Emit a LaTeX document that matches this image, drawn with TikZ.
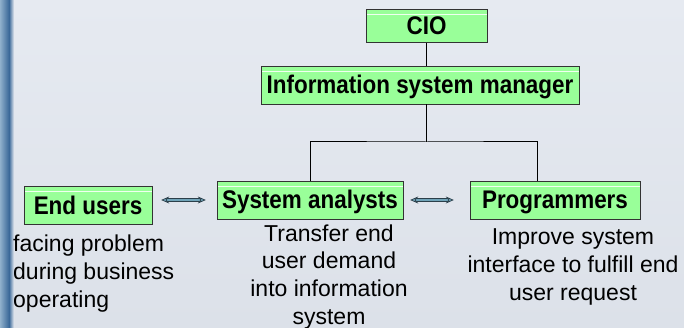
\documentclass[tikz,border=0pt]{standalone}
\usepackage{fontspec}
\setmainfont{Liberation Sans}
\newfontfamily\boxfont[FakeStretch=0.88]{Liberation Sans}
\usetikzlibrary{arrows.meta}

\definecolor{boxgreen}{HTML}{99FF99}
\definecolor{slidetop}{HTML}{E6EAF1}
\definecolor{slidebot}{HTML}{DCE1E9}
\definecolor{stripdark}{HTML}{3A6898}
\definecolor{striplight}{HTML}{8FB0CC}
\definecolor{arrowteal}{HTML}{6FA3B8}
\definecolor{arrowedge}{HTML}{2B3F4A}

\tikzset{
  role/.style={draw=black!80, fill=boxgreen, minimum height=38pt, inner sep=0pt,
    text height=18pt, text depth=0pt,
    font=\boxfont\bfseries\fontsize{25.5}{25.5}\selectfont,
    path picture={\draw[white!85!boxgreen, line width=0.8pt]
      ([yshift=-5pt]path picture bounding box.north west) --
      ([yshift=-5pt]path picture bounding box.north east);}},
  duty/.style={font=\fontsize{23}{27.6}\selectfont, inner sep=0pt},
  twoway/.style={{Stealth[length=8pt,width=7pt,fill=arrowteal]}-{Stealth[length=8pt,width=7pt,fill=arrowteal]},
    draw=arrowedge, line width=0.7pt, double=arrowteal, double distance=1.8pt},
  tree/.style={draw=black, line width=1pt}
}

\begin{document}
\begin{tikzpicture}[x=1pt, y=-1pt]
  \useasboundingbox (0,0) rectangle (684,328);
  % slide background
  \shade[top color=slidetop, bottom color=slidebot] (0,0) rectangle (684,328);
  \shade[left color=striplight, right color=stripdark] (0,0) rectangle (9,328);
  \shade[left color=stripdark, right color=slidetop] (9,0) rectangle (14,328);

  % boxes
  \node[role, minimum width=121pt, minimum height=33pt] (cio) at (426.5,26) {CIO};
  \node[role, minimum width=318pt] (ism) at (420,85) {Information system manager};
  \node[role, minimum width=186pt] (sa) at (310,200) {System analysts};
  \node[role, minimum width=170pt] (pg) at (555,200) {Programmers};
  \node[role, minimum width=128pt] (eu) at (88,205.5) {End users};

  % tree lines
  \coordinate (split) at (426.5,142);
  \draw[tree] (cio.south) -- (cio.south |- ism.north);
  \draw[tree] (cio.south |- ism.south) -- (split);
  \draw[tree] (sa.north) |- (split) -| ([xshift=-18pt]pg.north);

  % two-way arrows
  \draw[twoway] ([xshift=9pt]eu.east |- sa.west) -- ([xshift=-11pt]sa.west);
  \draw[twoway] ([xshift=7pt]sa.east) -- ([xshift=-16pt]pg.west);

  % notes (base = last line)
  \node[duty, anchor=base west, align=left] (eunote) at (13,307)
    {facing problem\\during business\\operating};
  \node[duty, anchor=base, align=center] (sanote) at (329,324)
    {Transfer end\\user demand\\into information\\system};
  \node[duty, anchor=base, align=center] (pgnote) at (573,300)
    {Improve system\\interface to fulfill end\\user request};
\end{tikzpicture}
\end{document}
